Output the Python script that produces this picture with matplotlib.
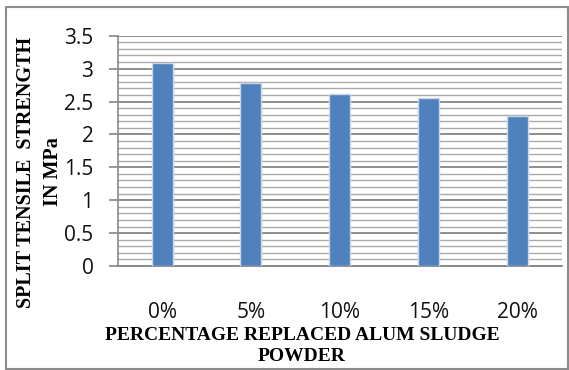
import matplotlib
matplotlib.use("Agg")
import matplotlib.pyplot as plt
from matplotlib.patches import Rectangle
import numpy as np

categories = ["0%", "5%", "10%", "15%", "20%"]
strength = [3.08, 2.78, 2.62, 2.56, 2.28]
y_ticks = [0, 0.5, 1, 1.5, 2, 2.5, 3, 3.5]
y_tick_labels = ["0", "0.5", "1", "1.5", "2", "2.5", "3", "3.5"]
x_label = "PERCENTAGE REPLACED ALUM SLUDGE\nPOWDER"
y_label = "SPLIT TENSILE  STRENGTH\nIN MPa"

W, H = 569, 370
fig = plt.figure(figsize=(W / 100, H / 100), dpi=100)
fig.patch.set_facecolor("white")

left, right, top, bottom = 117.7, 561.7, 35.7, 266.0
ax = fig.add_axes([left / W, 1 - bottom / H, (right - left) / W, (bottom - top) / H])

x = np.arange(len(categories))
ax.bar(x, strength, width=0.235, color="#4F81BD", edgecolor="#c9d6ea", linewidth=1.0, zorder=3)

ax.set_xlim(-0.5, len(categories) - 0.5)
ax.set_ylim(0, 3.5)
ax.set_yticks(y_ticks)
ax.set_yticklabels(y_tick_labels)
ax.set_yticks(np.arange(0, 3.5001, 0.1), minor=True)
ax.set_xticks(x)
ax.set_xticklabels(categories)

ax.grid(axis="y", which="major", color="#858585", linewidth=1.3, zorder=1)
ax.grid(axis="y", which="minor", color="#aaaaaa", linewidth=1.0, zorder=1)
ax.grid(axis="x", visible=False)

for s in ["top", "right"]:
    ax.spines[s].set_visible(False)
ax.spines["left"].set_color("#8a8a8a")
ax.spines["left"].set_linewidth(1.2)
ax.spines["bottom"].set_color("#858585")
ax.spines["bottom"].set_linewidth(1.3)

tick_font = dict(family=["Open Sans", "DejaVu Sans"], size=15)
ax.tick_params(axis="y", which="major", length=6.5, width=1.2, color="#858585", pad=11)
ax.tick_params(axis="y", which="minor", length=0)
ax.tick_params(axis="x", length=0, pad=26)
for lab in ax.get_yticklabels() + ax.get_xticklabels():
    lab.set_fontfamily(tick_font["family"])
    lab.set_fontsize(tick_font["size"])
    lab.set_color("#111111")

label_font = dict(family=["Liberation Serif", "DejaVu Serif"], weight="bold", size=14.5)
ax.set_ylabel(y_label, ha="center", va="center", multialignment="center",
              linespacing=1.4, **label_font)
ax.yaxis.set_label_coords((39.5 - left) / (right - left), (bottom - 172) / (bottom - top))
ax.set_xlabel(x_label, ha="center", va="center", multialignment="center",
              linespacing=1.35, family=label_font["family"], weight="bold", size=14)
ax.xaxis.set_label_coords((302 - left) / (right - left), (bottom - 346) / (bottom - top))

fig.patches.append(Rectangle((6 / W, 1 / H), (562) / W, (362) / H, transform=fig.transFigure,
                             fill=False, edgecolor="#8c8c8c", linewidth=1.5))

fig.savefig("out.png", dpi=100, facecolor="white")
